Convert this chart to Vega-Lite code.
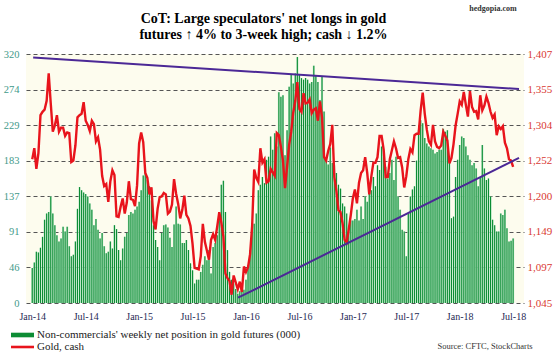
{
"$schema": "https://vega.github.io/schema/vega-lite/v6.json",
"width": 498,
"height": 249,
"autosize": {"type": "none"},
"padding": {"left": 26, "top": 54, "right": 31, "bottom": 52},
"background": "#ffffff",
"config": {
  "view": {"stroke": null, "fill": "#fdfcee"},
  "axis": {"labelFont": "Liberation Serif", "titleFont": "Liberation Serif", "ticks": false, "domain": false}
},
"datasets": {
"cot": [
{"d":"2014/01/14","n":45,"g":1254},{"d":"2014/01/21","n":52,"g":1270},{"d":"2014/01/28","n":66,"g":1240},{"d":"2014/02/04","n":65,"g":1263},{"d":"2014/02/11","n":71,"g":1318},{"d":"2014/02/18","n":85,"g":1323},{"d":"2014/02/25","n":107,"g":1326},{"d":"2014/03/04","n":115,"g":1339},{"d":"2014/03/11","n":117,"g":1379},{"d":"2014/03/18","n":137,"g":1335},
{"d":"2014/03/25","n":115,"g":1294},{"d":"2014/04/01","n":100,"g":1303},{"d":"2014/04/08","n":87,"g":1318},{"d":"2014/04/15","n":79,"g":1294},{"d":"2014/04/22","n":83,"g":1300},{"d":"2014/04/29","n":98,"g":1300},{"d":"2014/05/06","n":92,"g":1288},{"d":"2014/05/13","n":98,"g":1293},{"d":"2014/05/20","n":73,"g":1292},{"d":"2014/05/27","n":60,"g":1250},
{"d":"2014/06/03","n":62,"g":1252},{"d":"2014/06/10","n":79,"g":1274},{"d":"2014/06/17","n":121,"g":1315},{"d":"2014/06/24","n":149,"g":1318},{"d":"2014/07/01","n":145,"g":1320},{"d":"2014/07/08","n":142,"g":1337},{"d":"2014/07/15","n":140,"g":1310},{"d":"2014/07/22","n":137,"g":1304},{"d":"2014/07/29","n":128,"g":1295},{"d":"2014/08/05","n":120,"g":1310},
{"d":"2014/08/12","n":100,"g":1305},{"d":"2014/08/19","n":108,"g":1280},{"d":"2014/08/26","n":94,"g":1286},{"d":"2014/09/02","n":83,"g":1268},{"d":"2014/09/09","n":90,"g":1230},{"d":"2014/09/16","n":73,"g":1215},{"d":"2014/09/23","n":64,"g":1218},{"d":"2014/09/30","n":66,"g":1192},{"d":"2014/10/07","n":79,"g":1222},{"d":"2014/10/14","n":70,"g":1238},
{"d":"2014/10/21","n":100,"g":1231},{"d":"2014/10/28","n":95,"g":1171},{"d":"2014/11/04","n":68,"g":1170},{"d":"2014/11/11","n":55,"g":1185},{"d":"2014/11/18","n":70,"g":1197},{"d":"2014/11/25","n":85,"g":1175},{"d":"2014/12/02","n":90,"g":1191},{"d":"2014/12/09","n":113,"g":1222},{"d":"2014/12/16","n":117,"g":1196},{"d":"2014/12/23","n":115,"g":1195},
{"d":"2014/12/30","n":120,"g":1186},{"d":"2015/01/06","n":124,"g":1216},{"d":"2015/01/13","n":130,"g":1277},{"d":"2015/01/20","n":145,"g":1293},{"d":"2015/01/27","n":164,"g":1279},{"d":"2015/02/03","n":167,"g":1234},{"d":"2015/02/10","n":158,"g":1227},{"d":"2015/02/17","n":150,"g":1203},{"d":"2015/02/24","n":132,"g":1213},{"d":"2015/03/03","n":100,"g":1164},
{"d":"2015/03/10","n":81,"g":1152},{"d":"2015/03/17","n":72,"g":1182},{"d":"2015/03/24","n":55,"g":1199},{"d":"2015/03/31","n":90,"g":1200},{"d":"2015/04/07","n":100,"g":1205},{"d":"2015/04/14","n":101,"g":1203},{"d":"2015/04/21","n":97,"g":1175},{"d":"2015/04/28","n":84,"g":1178},{"d":"2015/05/05","n":72,"g":1188},{"d":"2015/05/12","n":101,"g":1225},
{"d":"2015/05/19","n":124,"g":1204},{"d":"2015/05/26","n":102,"g":1189},{"d":"2015/06/02","n":101,"g":1168},{"d":"2015/06/09","n":77,"g":1180},{"d":"2015/06/16","n":77,"g":1201},{"d":"2015/06/23","n":81,"g":1173},{"d":"2015/06/30","n":68,"g":1168},{"d":"2015/07/07","n":51,"g":1157},{"d":"2015/07/14","n":42,"g":1131},{"d":"2015/07/21","n":25,"g":1096},
{"d":"2015/07/28","n":30,"g":1095},{"d":"2015/08/04","n":30,"g":1094},{"d":"2015/08/11","n":40,"g":1113},{"d":"2015/08/18","n":49,"g":1160},{"d":"2015/08/25","n":60,"g":1134},{"d":"2015/09/01","n":55,"g":1121},{"d":"2015/09/08","n":68,"g":1108},{"d":"2015/09/15","n":38,"g":1137},{"d":"2015/09/22","n":72,"g":1145},{"d":"2015/09/29","n":77,"g":1137},
{"d":"2015/10/06","n":87,"g":1156},{"d":"2015/10/13","n":111,"g":1177},{"d":"2015/10/20","n":152,"g":1162},{"d":"2015/10/27","n":157,"g":1142},{"d":"2015/11/03","n":117,"g":1088},{"d":"2015/11/10","n":68,"g":1081},{"d":"2015/11/17","n":40,"g":1077},{"d":"2015/11/24","n":30,"g":1057},{"d":"2015/12/01","n":25,"g":1085},{"d":"2015/12/08","n":18,"g":1075},
{"d":"2015/12/15","n":12,"g":1065},{"d":"2015/12/22","n":15,"g":1076},{"d":"2015/12/29","n":15,"g":1061},{"d":"2016/01/05","n":17,"g":1098},{"d":"2016/01/12","n":30,"g":1090},{"d":"2016/01/19","n":47,"g":1097},{"d":"2016/01/26","n":68,"g":1116},{"d":"2016/02/02","n":94,"g":1157},{"d":"2016/02/09","n":102,"g":1239},{"d":"2016/02/16","n":115,"g":1227},
{"d":"2016/02/23","n":145,"g":1221},{"d":"2016/03/01","n":152,"g":1270},{"d":"2016/03/08","n":162,"g":1249},{"d":"2016/03/15","n":154,"g":1254},{"d":"2016/03/22","n":184,"g":1220},{"d":"2016/03/29","n":188,"g":1222},{"d":"2016/04/05","n":214,"g":1240},{"d":"2016/04/12","n":197,"g":1235},{"d":"2016/04/19","n":218,"g":1230},{"d":"2016/04/26","n":201,"g":1292},
{"d":"2016/05/03","n":271,"g":1289},{"d":"2016/05/10","n":265,"g":1272},{"d":"2016/05/17","n":267,"g":1252},{"d":"2016/05/24","n":190,"g":1212},{"d":"2016/05/31","n":222,"g":1243},{"d":"2016/06/07","n":278,"g":1275},{"d":"2016/06/14","n":293,"g":1294},{"d":"2016/06/21","n":282,"g":1322},{"d":"2016/06/28","n":295,"g":1339},{"d":"2016/07/05","n":316,"g":1366},
{"d":"2016/07/12","n":293,"g":1327},{"d":"2016/07/19","n":289,"g":1323},{"d":"2016/07/26","n":287,"g":1350},{"d":"2016/08/02","n":289,"g":1335},{"d":"2016/08/09","n":287,"g":1336},{"d":"2016/08/16","n":282,"g":1341},{"d":"2016/08/23","n":284,"g":1321},{"d":"2016/08/30","n":305,"g":1326},{"d":"2016/09/06","n":293,"g":1328},{"d":"2016/09/13","n":284,"g":1310},
{"d":"2016/09/20","n":261,"g":1338},{"d":"2016/09/27","n":291,"g":1315},{"d":"2016/10/04","n":246,"g":1257},{"d":"2016/10/11","n":184,"g":1252},{"d":"2016/10/18","n":178,"g":1266},{"d":"2016/10/25","n":200,"g":1276},{"d":"2016/11/01","n":180,"g":1304},{"d":"2016/11/08","n":177,"g":1228},{"d":"2016/11/15","n":167,"g":1208},{"d":"2016/11/22","n":152,"g":1180},
{"d":"2016/11/29","n":147,"g":1177},{"d":"2016/12/06","n":128,"g":1161},{"d":"2016/12/13","n":124,"g":1137},{"d":"2016/12/20","n":115,"g":1133},{"d":"2016/12/27","n":96,"g":1152},{"d":"2017/01/03","n":106,"g":1173},{"d":"2017/01/10","n":106,"g":1197},{"d":"2017/01/17","n":108,"g":1210},{"d":"2017/01/24","n":120,"g":1190},{"d":"2017/01/31","n":106,"g":1220},
{"d":"2017/02/07","n":124,"g":1234},{"d":"2017/02/14","n":108,"g":1238},{"d":"2017/02/21","n":137,"g":1257},{"d":"2017/02/28","n":130,"g":1234},{"d":"2017/03/07","n":154,"g":1203},{"d":"2017/03/14","n":145,"g":1229},{"d":"2017/03/21","n":162,"g":1249},{"d":"2017/03/28","n":150,"g":1249},{"d":"2017/04/04","n":177,"g":1257},{"d":"2017/04/11","n":171,"g":1288},
{"d":"2017/04/18","n":201,"g":1288},{"d":"2017/04/25","n":190,"g":1268},{"d":"2017/05/02","n":175,"g":1228},{"d":"2017/05/09","n":160,"g":1228},{"d":"2017/05/16","n":167,"g":1254},{"d":"2017/05/23","n":184,"g":1267},{"d":"2017/05/30","n":158,"g":1280},{"d":"2017/06/06","n":188,"g":1270},{"d":"2017/06/13","n":137,"g":1256},{"d":"2017/06/20","n":120,"g":1257},
{"d":"2017/06/27","n":94,"g":1242},{"d":"2017/07/04","n":92,"g":1213},{"d":"2017/07/11","n":60,"g":1229},{"d":"2017/07/18","n":115,"g":1254},{"d":"2017/07/25","n":137,"g":1269},{"d":"2017/08/01","n":146,"g":1264},{"d":"2017/08/08","n":150,"g":1289},{"d":"2017/08/15","n":183,"g":1291},{"d":"2017/08/22","n":222,"g":1291},{"d":"2017/08/29","n":235,"g":1325},
{"d":"2017/09/05","n":231,"g":1351},{"d":"2017/09/12","n":212,"g":1320},{"d":"2017/09/19","n":205,"g":1297},{"d":"2017/09/26","n":201,"g":1280},{"d":"2017/10/03","n":199,"g":1275},{"d":"2017/10/10","n":197,"g":1304},{"d":"2017/10/17","n":192,"g":1280},{"d":"2017/10/24","n":194,"g":1272},{"d":"2017/10/31","n":197,"g":1270},{"d":"2017/11/07","n":197,"g":1274},
{"d":"2017/11/14","n":224,"g":1294},{"d":"2017/11/21","n":220,"g":1288},{"d":"2017/11/28","n":222,"g":1281},{"d":"2017/12/05","n":184,"g":1248},{"d":"2017/12/12","n":109,"g":1256},{"d":"2017/12/19","n":111,"g":1276},{"d":"2017/12/26","n":162,"g":1303},{"d":"2018/01/02","n":184,"g":1320},{"d":"2018/01/09","n":203,"g":1338},{"d":"2018/01/16","n":214,"g":1333},
{"d":"2018/01/23","n":212,"g":1352},{"d":"2018/01/30","n":201,"g":1333},{"d":"2018/02/06","n":190,"g":1316},{"d":"2018/02/13","n":184,"g":1353},{"d":"2018/02/20","n":177,"g":1330},{"d":"2018/02/27","n":180,"g":1323},{"d":"2018/03/06","n":173,"g":1324},{"d":"2018/03/13","n":150,"g":1312},{"d":"2018/03/20","n":162,"g":1347},{"d":"2018/03/27","n":203,"g":1325},
{"d":"2018/04/03","n":173,"g":1332},{"d":"2018/04/10","n":158,"g":1345},{"d":"2018/04/17","n":160,"g":1336},{"d":"2018/04/24","n":137,"g":1323},{"d":"2018/05/01","n":107,"g":1314},{"d":"2018/05/08","n":100,"g":1319},{"d":"2018/05/15","n":92,"g":1289},{"d":"2018/05/22","n":92,"g":1302},{"d":"2018/05/29","n":115,"g":1298},{"d":"2018/06/05","n":113,"g":1302},
{"d":"2018/06/12","n":120,"g":1278},{"d":"2018/06/19","n":96,"g":1270},{"d":"2018/06/26","n":79,"g":1254},{"d":"2018/07/03","n":80,"g":1252},{"d":"2018/07/10","n":83,"g":1243}
],
"trend": [
{"d":"2014/01/17","g":1402,"line":"upper"},{"d":"2018/07/30","g":1356,"line":"upper"},
{"d":"2015/12/16","g":1052.7,"line":"lower"},{"d":"2018/07/30","g":1256,"line":"lower"}
]
},
"data": {"name": "cot"},
"encoding": {
  "x": {"field": "d", "type": "temporal",
    "scale": {"domain": [{"year":2014,"month":1,"date":9,"hours":17},{"year":2018,"month":7,"date":30}]},
    "axis": {
      "values": [{"year":2014,"month":1,"date":14},{"year":2014,"month":7,"date":15},{"year":2015,"month":1,"date":13},{"year":2015,"month":7,"date":14},{"year":2016,"month":1,"date":12},{"year":2016,"month":7,"date":12},{"year":2017,"month":1,"date":10},{"year":2017,"month":7,"date":11},{"year":2018,"month":1,"date":9},{"year":2018,"month":7,"date":10}],
      "format": "%b-%y", "labelColor": "#1f2a55", "labelFontSize": 10, "labelPadding": 8, "grid": false,
      "labelOverlap": false, "labelFlush": false,
      "title": "Source: CFTC, StockCharts", "titleX": 458.5, "titleY": 45.5, "titleAlign": "center", "titleBaseline": "alphabetic",
      "titleFontSize": 8.5, "titleFontWeight": "normal", "titleColor": "#333333"
    }
  }
},
"layer": [
  {
    "encoding": {
      "y": {"field": "n", "type": "quantitative",
        "scale": {"domain": [0, 320], "nice": false},
        "axis": {"orient": "left", "values": [0,45.714,91.429,137.143,182.857,228.571,274.286,320], "format": ".0f",
          "labelColor": "#3f9a8a", "labelFontSize": 10.5, "labelPadding": 7,
          "grid": true, "gridColor": "#555555", "gridDash": [4,3], "gridWidth": 1,
          "title": ["CoT: Large speculators' net longs in gold", "futures ↑ 4% to 3-week high; cash ↓ 1.2%"],
          "titleAngle": 0, "titleX": 237, "titleY": -32, "titleAlign": "center", "titleBaseline": "alphabetic",
          "titleFontSize": 14, "titleFontWeight": "bold", "titleColor": "#000000", "titleLineHeight": 16}}
    },
    "layer": [
      {"mark": {"type": "bar", "width": 2.1, "color": "#bde8c9"}},
      {"mark": {"type": "bar", "width": 1.1},
       "encoding": {"color": {"datum": "Non-commercials' weekly net position in gold futures (000)", "type": "nominal",
         "scale": {"domain": ["Non-commercials' weekly net position in gold futures (000)", "Gold, cash"], "range": ["#0c8c34", "#e8141c"]},
         "legend": {"title": null, "orient": "none", "legendX": -9, "legendY": 275.5, "direction": "vertical",
           "labelFont": "Liberation Serif", "labelFontSize": 11, "labelColor": "#1a1a1a", "labelLimit": 400,
           "symbolSize": 85, "labelOffset": 9, "rowPadding": 0, "padding": 0,
           "encode": {"symbols": {"update": {
             "shape": {"signal": "datum.value === 'Gold, cash' ? 'M-2.5,-0.28H2.5V0.28H-2.5Z' : 'M-2.5,-0.5H2.5V0.5H-2.5Z'"},
             "fill": {"signal": "datum.value === 'Gold, cash' ? '#e8141c' : '#109a3a'"},
             "stroke": {"value": "transparent"}, "strokeWidth": {"value": 0}, "opacity": {"value": 1}}}}}}}}
    ]
  },
  {
    "encoding": {
      "y": {"field": "g", "type": "quantitative",
        "scale": {"domain": [1045, 1407], "nice": false, "zero": false},
        "axis": {"orient": "right", "values": [1045,1096.71,1148.55,1200.14,1251.86,1303.57,1355.29,1407], "format": ",.0f",
          "labelColor": "#d93a32", "labelFontSize": 11, "labelPadding": 3, "grid": false,
          "title": "hedgopia.com", "titleAngle": 0, "titleX": -31.5, "titleY": -43.5, "titleAlign": "center", "titleBaseline": "alphabetic",
          "titleFontSize": 8, "titleFontWeight": "bold", "titleColor": "#333333"}}
    },
    "layer": [
      {"mark": {"type": "line", "strokeWidth": 2.4},
       "encoding": {"color": {"datum": "Gold, cash", "type": "nominal",
         "scale": {"domain": ["Non-commercials' weekly net position in gold futures (000)", "Gold, cash"], "range": ["#0c8c34", "#e8141c"]},
         "legend": {"title": null, "orient": "none", "legendX": -9, "legendY": 275.5, "direction": "vertical",
           "labelFont": "Liberation Serif", "labelFontSize": 11, "labelColor": "#1a1a1a", "labelLimit": 400,
           "symbolSize": 85, "labelOffset": 9, "rowPadding": 0, "padding": 0,
           "encode": {"symbols": {"update": {
             "shape": {"signal": "datum.value === 'Gold, cash' ? 'M-2.5,-0.28H2.5V0.28H-2.5Z' : 'M-2.5,-0.5H2.5V0.5H-2.5Z'"},
             "fill": {"signal": "datum.value === 'Gold, cash' ? '#e8141c' : '#109a3a'"},
             "stroke": {"value": "transparent"}, "strokeWidth": {"value": 0}, "opacity": {"value": 1}}}}}}}},
      {"data": {"name": "trend"}, "mark": {"type": "line", "color": "#4b2896", "strokeWidth": 2},
       "encoding": {"detail": {"field": "line", "type": "nominal"}}}
    ]
  }
],
"resolve": {"scale": {"y": "independent"}}
}
